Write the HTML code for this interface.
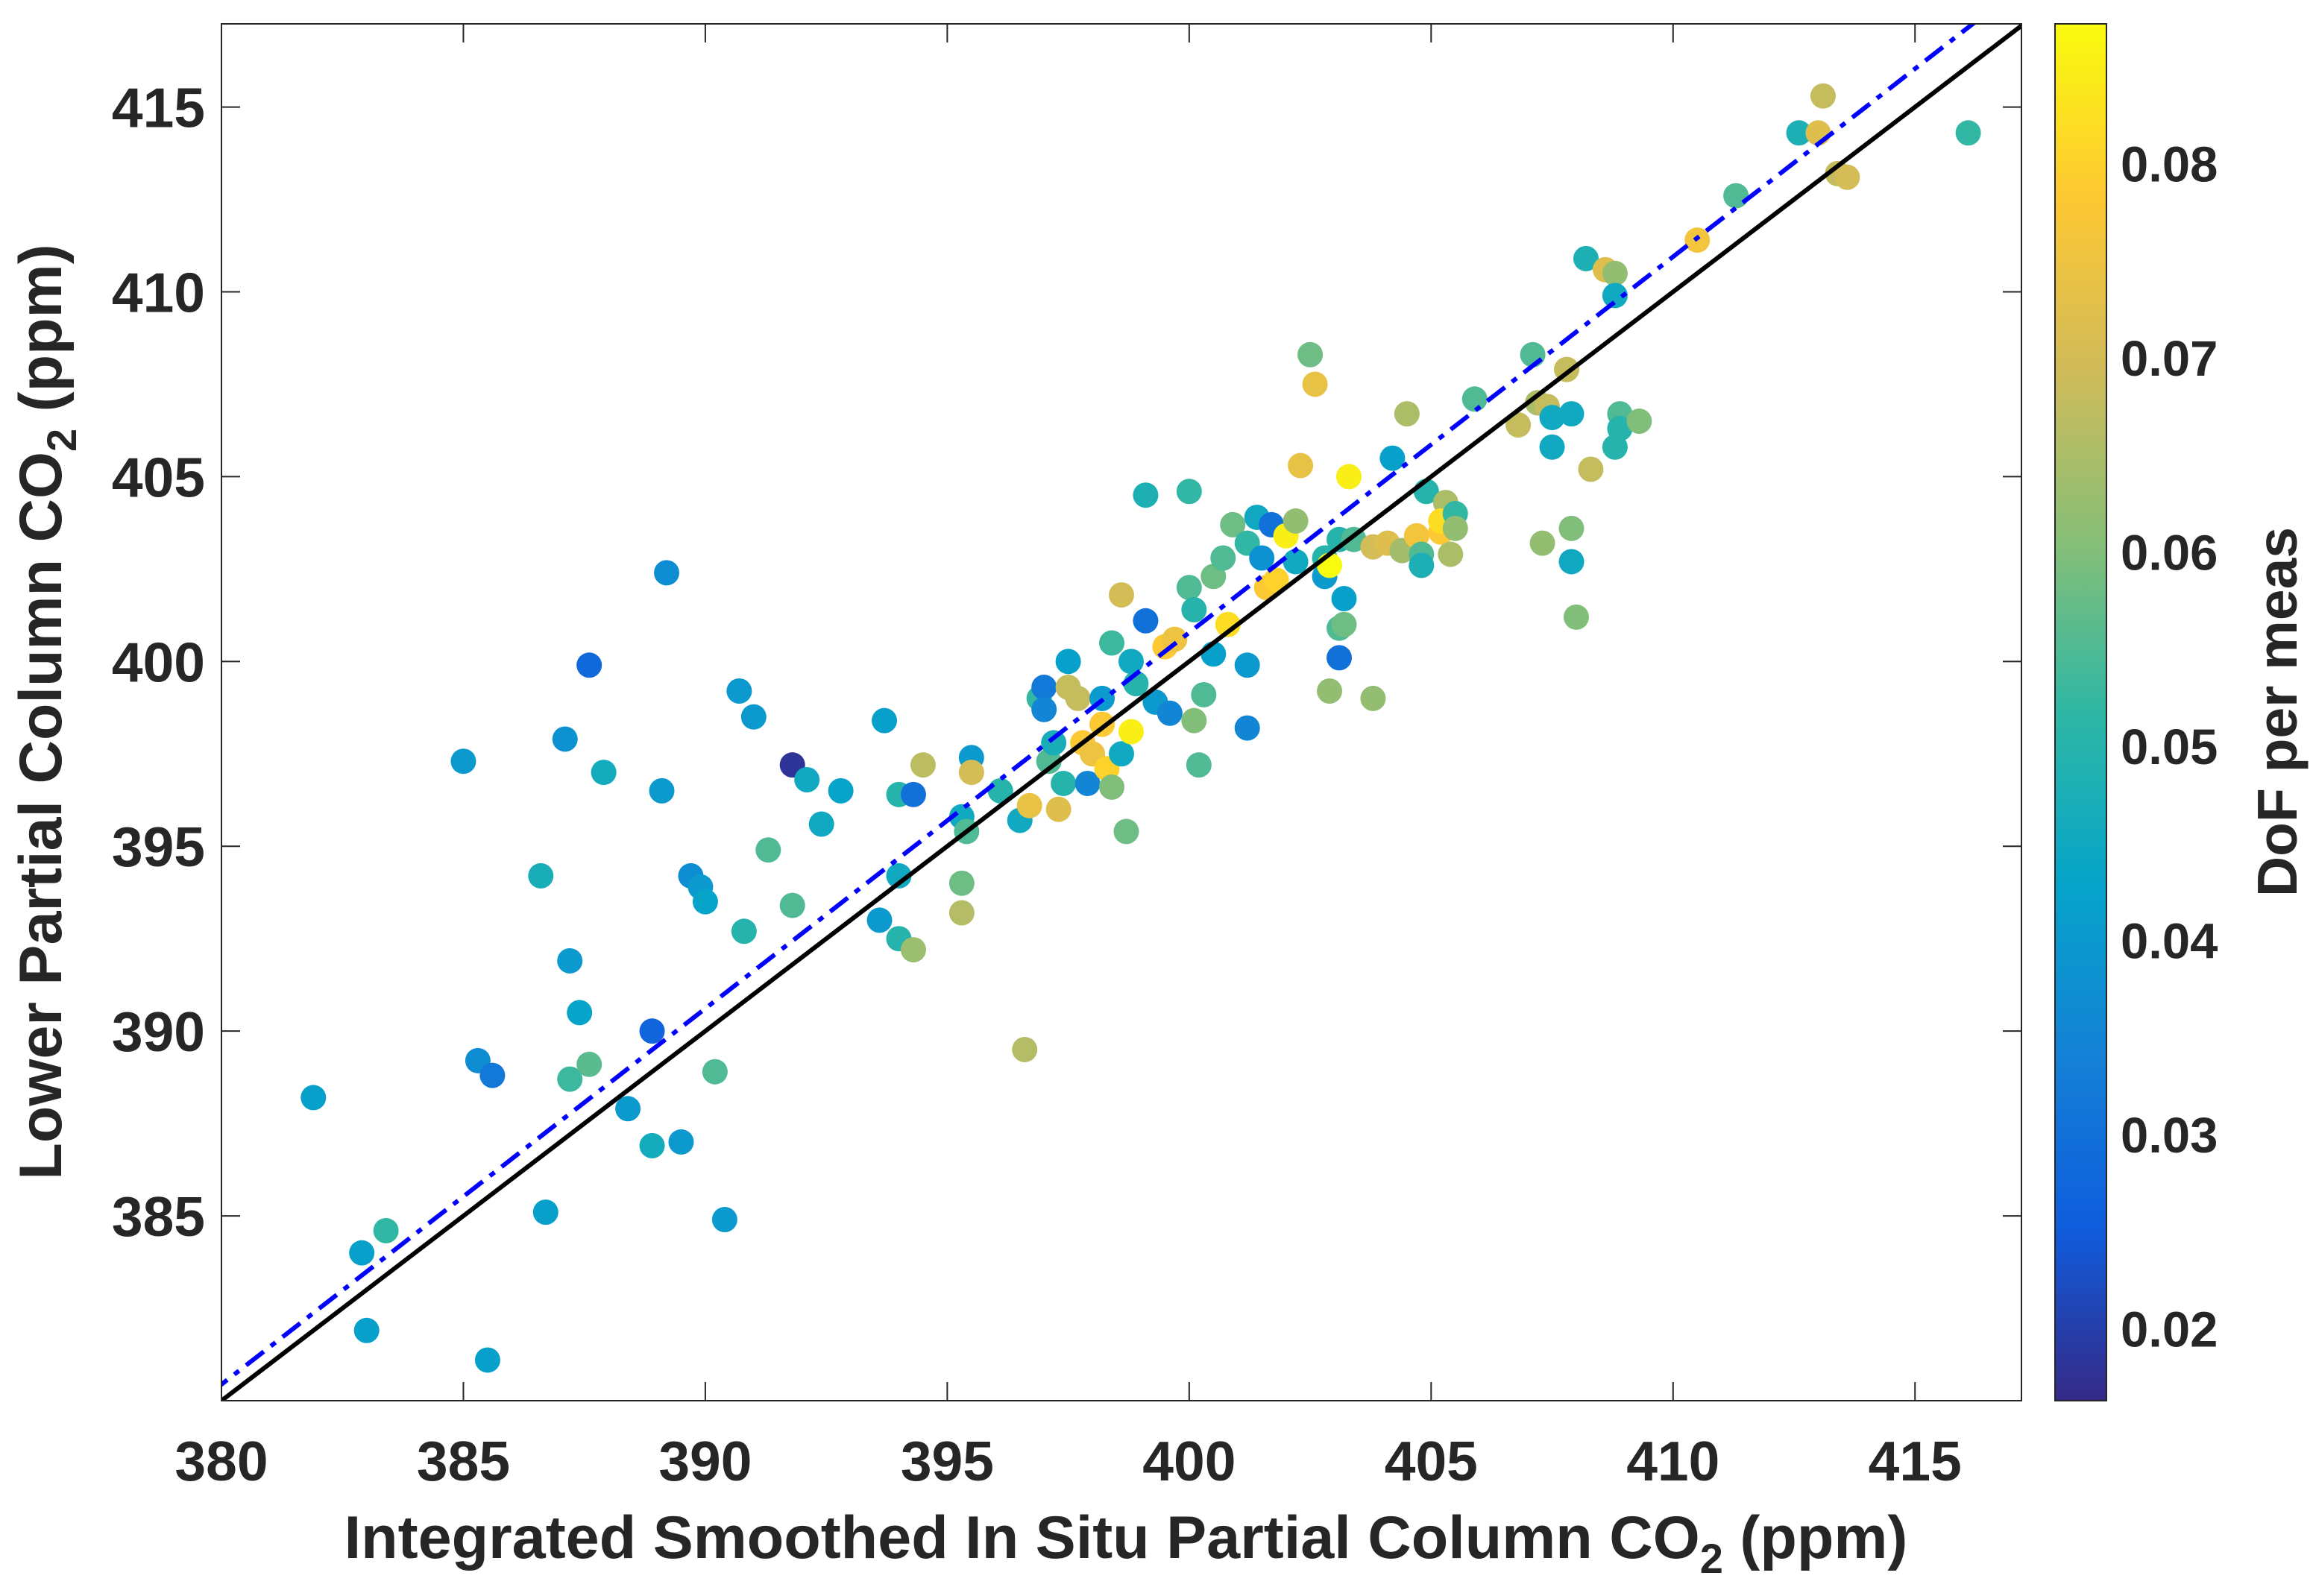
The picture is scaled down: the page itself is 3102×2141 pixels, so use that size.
<!DOCTYPE html>
<html><head><meta charset="utf-8"><style>
html,body{margin:0;padding:0;background:#fff}
svg{display:block}
text{font-family:"Liberation Sans",Arial,sans-serif;font-weight:bold;fill:#262626}
</style></head><body>
<svg id="chart" width="3102" height="2141" viewBox="0 0 3102 2141" xmlns="http://www.w3.org/2000/svg">
<defs>
<linearGradient id="parula" x1="0" y1="1" x2="0" y2="0">
<stop offset="0" stop-color="#352a87"/><stop offset="0.125" stop-color="#0f5cdd"/><stop offset="0.25" stop-color="#1481d6"/><stop offset="0.375" stop-color="#06a4ca"/><stop offset="0.5" stop-color="#2eb7a4"/><stop offset="0.625" stop-color="#87bf77"/><stop offset="0.75" stop-color="#d1bb59"/><stop offset="0.875" stop-color="#fec832"/><stop offset="1" stop-color="#f9fb0e"/>
</linearGradient>
<clipPath id="plotclip"><rect x="297" y="32" width="2414" height="1847"/></clipPath>
</defs>
<rect x="297" y="32" width="2414" height="1847" fill="#fff"/>
<g id="marks" clip-path="url(#plotclip)"></g>
<g id="axes"></g>
<text x="0" y="0" transform="translate(82,955) rotate(-90)" text-anchor="middle" font-size="81">Lower Partial Column CO<tspan font-size="56" dy="20">2</tspan><tspan dy="-20"> (ppm)</tspan></text>
<text x="1510" y="2090" text-anchor="middle" font-size="81">Integrated Smoothed In Situ Partial Column CO<tspan font-size="56" dy="20">2</tspan><tspan dy="-20"> (ppm)</tspan></text>
<rect x="2756" y="32" width="69" height="1847" fill="url(#parula)" stroke="#262626" stroke-width="2"/>
<text x="0" y="0" transform="translate(3080,955) rotate(-90)" text-anchor="middle" font-size="75">DoF per meas</text>
</svg>
<script>
const xs=[381.9,382.9,383.0,383.4,385.0,385.3,385.6,385.5,386.6,386.7,387.1,387.6,387.9,387.2,387.4,387.2,387.6,388.4,388.9,388.9,389.5,389.2,389.1,389.7,389.9,390.0,390.2,390.4,390.7,391.0,390.8,391.3,391.8,392.1,391.8,392.4,392.8,393.6,393.7,394.0,394.0,394.0,394.3,394.3,394.5,395.3,395.3,395.3,395.4,395.5,395.5,396.1,396.5,396.6,396.7,396.9,397.0,397.0,397.1,397.2,397.3,397.4,397.5,397.5,397.7,397.8,397.9,398.0,398.2,398.2,398.3,398.4,398.4,398.6,398.6,398.8,398.7,398.9,398.8,399.1,399.1,399.3,399.5,399.6,399.7,400.0,400.0,400.1,400.1,400.2,400.3,400.5,400.5,400.7,400.8,400.9,401.2,401.2,401.2,401.4,401.5,401.6,401.7,401.8,402.0,402.2,402.2,402.3,402.5,402.6,402.8,402.8,402.9,402.9,403.1,403.1,403.1,403.2,403.2,403.3,403.4,403.8,403.8,404.1,404.2,404.5,404.4,404.7,404.8,404.8,404.9,405.2,405.3,405.2,405.5,405.4,405.5,405.9,406.8,407.1,407.2,407.3,407.4,407.5,407.5,407.8,407.9,407.9,407.9,408.0,408.2,408.3,408.6,408.8,408.8,408.9,408.9,408.8,409.3,410.5,411.3,412.6,413.0,413.1,413.4,413.6,416.1];
const ys=[388.2,384.0,381.9,384.6,397.3,389.2,388.8,381.1,394.2,385.1,397.9,399.9,397.0,391.9,390.5,388.7,389.1,387.9,390.0,386.9,387.0,402.4,396.5,394.2,393.9,393.5,388.9,384.9,399.2,398.5,392.7,394.9,397.2,396.8,393.4,395.6,396.5,393.0,398.4,396.4,394.2,392.5,392.2,396.4,397.2,395.8,394.0,393.2,395.4,397.4,397.0,396.5,395.7,389.5,396.1,399.0,399.3,398.7,397.3,397.8,396.0,396.7,400.0,399.3,399.0,397.8,396.7,397.5,398.3,399.0,397.1,400.5,396.6,401.8,397.5,398.1,395.4,399.4,400.0,404.5,401.1,398.9,400.4,398.6,400.6,404.6,402.0,401.4,398.4,397.2,399.1,402.3,400.2,402.8,401.0,403.7,403.2,399.9,398.2,403.9,402.8,402.0,403.7,402.2,403.4,403.8,402.7,405.3,408.3,407.5,402.8,402.3,402.6,399.2,403.3,400.1,400.9,401.0,401.7,405.0,403.3,403.1,399.0,403.2,405.5,406.7,403.0,403.4,402.9,402.6,404.6,403.5,404.3,403.8,404.0,402.9,403.6,407.1,406.4,408.3,407.0,403.2,406.9,405.8,406.6,407.9,406.7,403.6,402.7,401.2,410.9,405.2,410.6,410.5,409.9,406.7,406.3,405.8,406.5,411.4,412.6,414.3,414.3,415.3,413.2,413.1,414.3];
const dof=[0.042,0.042,0.042,0.052,0.040,0.037,0.032,0.042,0.047,0.042,0.038,0.028,0.046,0.040,0.043,0.053,0.056,0.040,0.027,0.046,0.040,0.037,0.040,0.037,0.040,0.043,0.055,0.040,0.040,0.040,0.050,0.055,0.018,0.045,0.055,0.045,0.043,0.040,0.042,0.050,0.045,0.050,0.063,0.030,0.067,0.045,0.058,0.066,0.055,0.040,0.070,0.050,0.045,0.066,0.074,0.052,0.032,0.035,0.055,0.047,0.072,0.050,0.042,0.068,0.068,0.078,0.035,0.075,0.078,0.040,0.080,0.053,0.060,0.070,0.045,0.085,0.058,0.050,0.045,0.048,0.030,0.040,0.078,0.035,0.075,0.052,0.055,0.050,0.060,0.055,0.055,0.058,0.042,0.055,0.082,0.058,0.052,0.040,0.035,0.045,0.038,0.078,0.030,0.080,0.085,0.062,0.045,0.074,0.058,0.074,0.050,0.040,0.088,0.062,0.050,0.030,0.055,0.058,0.042,0.085,0.055,0.070,0.062,0.072,0.042,0.065,0.064,0.076,0.055,0.048,0.050,0.078,0.065,0.082,0.052,0.065,0.062,0.055,0.068,0.055,0.065,0.062,0.068,0.045,0.045,0.068,0.045,0.060,0.045,0.060,0.048,0.068,0.072,0.062,0.045,0.055,0.050,0.050,0.060,0.076,0.055,0.048,0.072,0.068,0.068,0.070,0.052];
const xTicks=[380,385,390,395,400,405,410,415];
const yTicks=[385,390,395,400,405,410,415];
const cTicks=[0.02,0.03,0.04,0.05,0.06,0.07,0.08];
const fitLine=[0.4402,1.017];

const X0=297,X1=2711,Y0=1879,Y1=32,xmin=380,xmax=417.2,ymin=380,ymax=417.25,cmin=0.0163,cmax=0.0872;
const sx=v=>X0+(v-xmin)/(xmax-xmin)*(X1-X0);
const sy=v=>Y0-(v-ymin)/(ymax-ymin)*(Y0-Y1);
const sc=v=>Y0-(v-cmin)/(cmax-cmin)*(Y0-Y1);
const stops=[[53,42,135],[15,92,221],[20,129,214],[6,164,202],[46,183,164],[135,191,119],[209,187,89],[254,200,50],[249,251,14]];
function parula(v){let t=Math.max(0,Math.min(1,(v-cmin)/(cmax-cmin)))*8;let i=Math.min(7,Math.floor(t)),f=t-i;const a=stops[i],b=stops[i+1];return 'rgb('+a.map((c,k)=>Math.round(c+(b[k]-c)*f)).join(',')+')';}
const NS='http://www.w3.org/2000/svg';
function mk(tag,attrs,parent){const e=document.createElementNS(NS,tag);for(const k in attrs)e.setAttribute(k,attrs[k]);parent.appendChild(e);return e;}
const marks=document.getElementById('marks'),axes=document.getElementById('axes');
for(let i=0;i<xs.length;i++){
 const c=mk('circle',{cx:sx(xs[i]),cy:sy(ys[i]),r:17,fill:parula(dof[i])},marks);
 
 
}
const l1=mk('line',{x1:sx(379),y1:sy(379),x2:sx(418),y2:sy(418),stroke:'#000','stroke-width':6},marks);


const fy=x=>380+fitLine[0]+fitLine[1]*(x-380);
const l2=mk('line',{x1:sx(379),y1:sy(fy(379)),x2:sx(418),y2:sy(fy(418)),stroke:'#0000ff','stroke-width':6,'stroke-dasharray':'30 12 8 12'},marks);


const box=mk('rect',{x:X0,y:Y1,width:X1-X0,height:Y0-Y1,fill:'none',stroke:'#262626','stroke-width':2},axes);


xTicks.forEach(v=>{const x=sx(v);
 mk('line',{x1:x,y1:Y0,x2:x,y2:Y0-25,stroke:'#262626','stroke-width':2},axes);
 mk('line',{x1:x,y1:Y1,x2:x,y2:Y1+25,stroke:'#262626','stroke-width':2},axes);
 const t=mk('text',{x:x,y:1986,'text-anchor':'middle','font-size':75},axes);t.textContent=v;
 
 
});
yTicks.forEach(v=>{const y=sy(v);
 mk('line',{x1:X0,y1:y,x2:X0+25,y2:y,stroke:'#262626','stroke-width':2},axes);
 mk('line',{x1:X1,y1:y,x2:X1-25,y2:y,stroke:'#262626','stroke-width':2},axes);
 const t=mk('text',{x:275,y:y+27,'text-anchor':'end','font-size':75},axes);t.textContent=v;
 
 
});
cTicks.forEach(v=>{const y=sc(v);
 mk('line',{x1:2825,y1:y,x2:2808,y2:y,stroke:'#262626','stroke-width':2},axes);
 const t=mk('text',{x:2844,y:y+24,'text-anchor':'start','font-size':67},axes);t.textContent=v.toFixed(2);
 
 
});
</script>
</body></html>
